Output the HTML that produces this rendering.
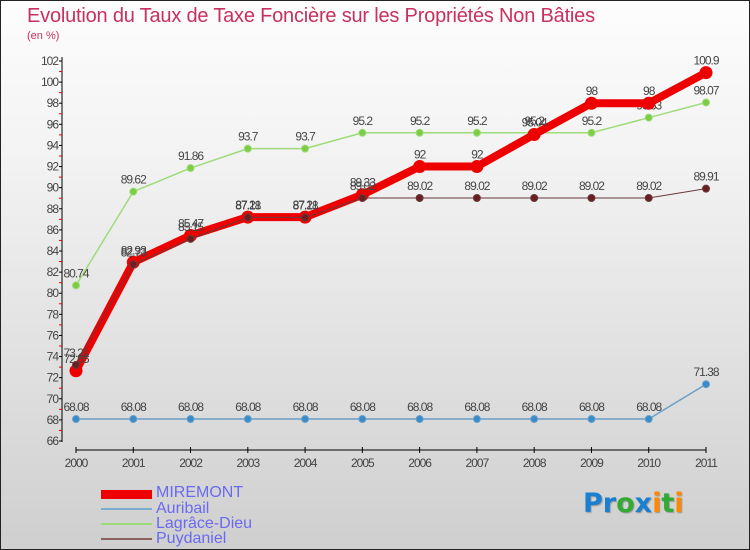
<!DOCTYPE html>
<html><head><meta charset="utf-8"><style>
body{margin:0}
#c{position:relative;width:750px;height:550px;box-sizing:border-box;border:1px solid #222;background:linear-gradient(#fdfdfd,#f2f2f2 30%,#cfcfcf);font-family:"Liberation Sans",sans-serif;overflow:hidden}
.t{position:absolute;left:26px;top:4px;font-size:20px;color:#c8305f;white-space:nowrap;letter-spacing:-0.2px}
.s{position:absolute;left:26px;top:29px;font-size:11px;color:#c8305f}
.lg{position:absolute;left:155px;font-size:16px;color:#6a6af0;line-height:14px}
</style></head><body>
<div id="c">
<div class="t">Evolution du Taux de Taxe Foncière sur les Propriétés Non Bâties</div>
<div class="s">(en %)</div>
<svg id="g" width="750" height="550" style="position:absolute;left:0;top:0"></svg>
<div>
<div style="position:absolute;left:100px;top:489px;width:51px;height:9px;background:#e00"></div>
<div class="lg" style="top:485px">MIREMONT</div>
<div style="position:absolute;left:100px;top:507px;width:51px;height:2px;background:#7aaed0"></div>
<div class="lg" style="top:501px">Auribail</div>
<div style="position:absolute;left:100px;top:522px;width:51px;height:2px;background:#9ddc7a"></div>
<div class="lg" style="top:516px">Lagrâce-Dieu</div>
<div style="position:absolute;left:100px;top:537px;width:51px;height:2px;background:#8a6060"></div>
<div class="lg" style="top:531px">Puydaniel</div>
</div>
<div style="position:absolute;left:582px;top:487px;font-size:27px;font-weight:bold;font-family:'DejaVu Sans',sans-serif;text-shadow:1px 1px 1px #999"><span style="color:#1a7fd0">Pr</span><span style="color:#3a3">o</span><span style="color:#1a7fd0">x</span><span style="color:#f80">i</span><span style="color:#3a3">t</span><span style="color:#f80">i</span></div>
</div>
<script>
const years=[2000,2001,2002,2003,2004,2005,2006,2007,2008,2009,2010,2011];
const yTicks=[66,68,70,72,74,76,78,80,82,84,86,88,90,92,94,96,98,100,102];
const lagrace=[80.74,89.62,91.86,93.7,93.7,95.2,95.2,95.2,95.2,95.2,96.63,98.07];
const auribail=[68.08,68.08,68.08,68.08,68.08,68.08,68.08,68.08,68.08,68.08,68.08,71.38];
const puydaniel=[73.21,82.73,85.15,87.18,87.18,89.02,89.02,89.02,89.02,89.02,89.02,89.91];
const miremont=[72.65,82.93,85.47,87.21,87.21,89.33,92,92,95.04,98,98,100.9];
const NS="http://www.w3.org/2000/svg",g=document.getElementById('g');
const x=i=>75+i*(630/11), y=v=>440-(v-66)*(380/36);
function el(t,a){const e=document.createElementNS(NS,t);for(const k in a)e.setAttribute(k,a[k]);g.appendChild(e);return e;}
let e=el('line',{x1:61,y1:56,x2:61,y2:441,stroke:'#000'});

e=el('line',{x1:75,y1:449,x2:705,y2:449,stroke:'#000'});

yTicks.forEach((v,i)=>{
 el('line',{x1:58,y1:y(v),x2:61,y2:y(v),stroke:'#000'});
 if(i<yTicks.length-1)el('line',{x1:58,y1:y(v+1),x2:61,y2:y(v+1),stroke:'#e00'});
 const t=el('text',{x:57,y:y(v)+4,'text-anchor':'end','font-size':12,fill:'#444','letter-spacing':'-1'});t.textContent=v;
 
});
years.forEach((yr,i)=>{
 el('line',{x1:x(i),y1:446,x2:x(i),y2:452,stroke:'#000'});
 const t=el('text',{x:x(i),y:466,'text-anchor':'middle','font-size':12,fill:'#444','letter-spacing':'-1'});t.textContent=yr;
 
});
function series(d,name,color,w,r,pc){
 const l=el('polyline',{points:d.map((v,i)=>x(i)+','+y(v)).join(' '),fill:'none',stroke:color,'stroke-width':w,'stroke-linejoin':'round'});
 
 d.forEach((v,i)=>{
  const c=el('circle',{cx:x(i),cy:y(v),r:r,fill:pc,stroke:color,'stroke-width':1});
  
  const t=el('text',{x:x(i),y:y(v)-8,'text-anchor':'middle','font-size':12,fill:'#444','letter-spacing':'-1'});t.textContent=v;
  
 });
}
series(lagrace,'lagrace-dieu','#9ddc7a',1.5,3.5,'#7ccc44');
series(auribail,'auribail','#6aa0c8',1.5,3.5,'#3a8cc8');
series(miremont,'miremont','#ee0000',8,6,'#ee0000');
series(puydaniel,'puydaniel','#6a3a3a',1,3.5,'#6a2020');
</script>
</body></html>
